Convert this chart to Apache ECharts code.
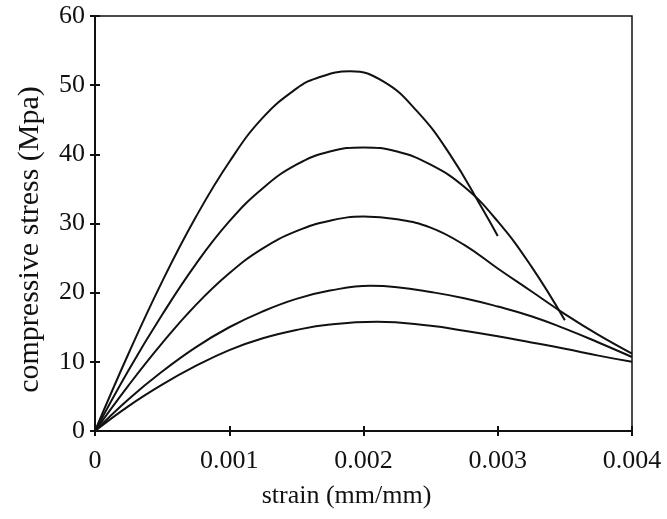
<!DOCTYPE html>
<html>
  <head>
    <meta charset="UTF-8" />
    <title>Compressive stress-strain curves</title>
    <style>
      html, body { margin: 0; padding: 0; background: #fff; }
      #chart { width: 667px; height: 519px; }
    </style>
    <script src="https://cdn.jsdelivr.net/npm/echarts@6/dist/echarts.min.js"></script>
  </head>
  <body>
    <div id="chart"></div>
    <script>
      // strain (mm/mm) and stress (MPa), top to bottom
      const strain52 = [0, 0.00025, 0.0005, 0.00075, 0.001, 0.00125, 0.0015, 0.00165, 0.0019, 0.00215, 0.0024, 0.00264, 0.00289, 0.003];
      const stress52 = [0, 11.2, 21.6, 30.9, 38.9, 45.3, 49.5, 51.0, 52.0, 50.5, 46.2, 40.1, 32.0, 28.2];

      const strain41 = [0, 0.00025, 0.0005, 0.00075, 0.001, 0.00125, 0.0015, 0.00175, 0.002, 0.00225, 0.0025, 0.00275, 0.003, 0.00325, 0.0035];
      const stress41 = [0, 8.8, 16.8, 24.1, 30.3, 35.1, 38.5, 40.4, 41.0, 40.4, 38.5, 35.3, 30.3, 23.8, 16.0];

      const strain31 = [0, 0.00025, 0.0005, 0.00075, 0.001, 0.00125, 0.0015, 0.00175, 0.002, 0.00225, 0.0025, 0.00275, 0.003, 0.00325, 0.0035, 0.00375, 0.004];
      const stress31 = [0, 6.6, 12.7, 18.2, 22.8, 26.4, 28.9, 30.4, 31.0, 30.6, 29.4, 26.9, 23.5, 20.2, 16.9, 13.9, 11.2];

      const strain21 = [0, 0.00025, 0.0005, 0.00075, 0.001, 0.00125, 0.0015, 0.00175, 0.00205, 0.00225, 0.0025, 0.00275, 0.003, 0.00325, 0.0035, 0.00375, 0.004];
      const stress21 = [0, 4.6, 8.6, 12.1, 15.0, 17.3, 19.1, 20.3, 21.0, 20.8, 20.1, 19.2, 18.0, 16.6, 14.8, 12.8, 10.7];

      const strain16 = [0, 0.00025, 0.0005, 0.00075, 0.001, 0.00125, 0.0015, 0.00175, 0.0021, 0.0025, 0.00275, 0.003, 0.00325, 0.0035, 0.00375, 0.004];
      const stress16 = [0, 3.6, 6.7, 9.4, 11.7, 13.4, 14.6, 15.4, 15.8, 15.2, 14.5, 13.7, 12.8, 11.9, 10.9, 10.0];

      const curves = [
        [strain52, stress52],
        [strain41, stress41],
        [strain31, stress31],
        [strain21, stress21],
        [strain16, stress16]
      ];

      const xTicks = [0, 0.001, 0.002, 0.003, 0.004];

      const font = "'Liberation Serif', 'Times New Roman', serif";

      const chart = echarts.init(document.getElementById("chart"));

      const xBase = {
        type: "value",
        min: xTicks[0],
        max: xTicks[xTicks.length - 1],
        interval: 0.001,
        splitLine: { show: false }
      };
      const yBase = {
        type: "value",
        min: 0,
        max: 60,
        interval: 10,
        splitLine: { show: false }
      };

      chart.setOption({
        animation: false,
        grid: {
          left: 95,
          right: 35,
          top: 16,
          bottom: 88,
          show: true,
          borderColor: "#111",
          borderWidth: 1.5
        },
        xAxis: [
          Object.assign({}, xBase, {
            name: "strain (mm/mm)",
            nameLocation: "middle",
            nameGap: 52,
            nameTextStyle: { fontFamily: font, fontSize: 26, color: "#111", padding: [0, 34, 0, 0] },
            axisLine: { lineStyle: { color: "#111", width: 2 } },
            axisTick: { length: 5, lineStyle: { color: "#111", width: 2 } },
            axisLabel: {
              fontFamily: font,
              fontSize: 26,
              color: "#111",
              margin: 17,
              formatter: v => (v === 0 ? "0" : v.toFixed(3))
            }
          }),
          // second copy only to draw the inner half of the crossing ticks
          Object.assign({}, xBase, {
            position: "bottom",
            axisLine: { show: false },
            axisTick: { inside: true, length: 5, lineStyle: { color: "#111", width: 2 } },
            axisLabel: { show: false }
          })
        ],
        yAxis: [
          Object.assign({}, yBase, {
            name: "compressive stress (Mpa)",
            nameLocation: "middle",
            nameGap: 50,
            nameTextStyle: { fontFamily: font, fontSize: 30, color: "#111", padding: [0, 32, 0, 0] },
            axisLine: { lineStyle: { color: "#111", width: 2 } },
            axisTick: { length: 5, lineStyle: { color: "#111", width: 2 } },
            axisLabel: { fontFamily: font, fontSize: 26, color: "#111", margin: 10 }
          }),
          Object.assign({}, yBase, {
            position: "left",
            axisLine: { show: false },
            axisTick: { inside: true, length: 5, lineStyle: { color: "#111", width: 2 } },
            axisLabel: { show: false }
          })
        ],
        series: curves.map(([xs, ys]) => ({
          type: "line",
          data: xs.map((x, i) => [x, ys[i]]),
          smooth: 0.45,
          showSymbol: false,
          lineStyle: { color: "#111", width: 2 }
        }))
      });
    </script>
  </body>
</html>
